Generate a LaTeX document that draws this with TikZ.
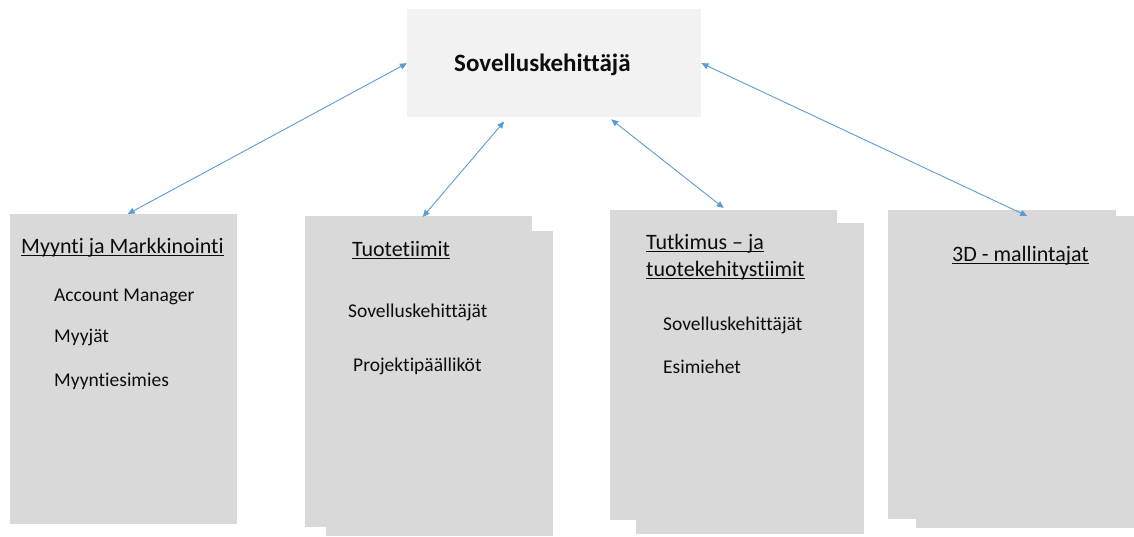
\documentclass[tikz,border=0pt]{standalone}
\usepackage{fontspec}
\setmainfont{Carlito}[Ligatures=NoCommon]
\usetikzlibrary{arrows.meta,calc}
\definecolor{boxgray}{RGB}{217,217,217}
\definecolor{topgray}{RGB}{242,242,242}
\definecolor{arrowblue}{RGB}{91,155,213}
\definecolor{txt}{RGB}{13,13,13}
\newcommand\myul[1]{\setbox0\hbox{#1}\rlap{\rule[-2.5pt]{\wd0}{1pt}}\box0}
\tikzset{
  page/.style={fill=boxgray, draw=none, inner sep=0pt, anchor=north west},
  ttl/.style={anchor=west, inner sep=0pt, font=\fontsize{22}{26}\selectfont, text=txt, align=left},
  item/.style={anchor=west, inner sep=0pt, font=\fontsize{19.5}{23}\selectfont, text=txt},
  link/.style={arrowblue, line width=0.9pt, {Triangle[length=7pt,width=6pt]}-{Triangle[length=7pt,width=6pt]}}
}
\begin{document}
\begin{tikzpicture}[x=1pt,y=-1pt]
\useasboundingbox (0,0) rectangle (1134,537);
% top box
\node[fill=topgray, inner sep=0pt, minimum width=294pt, minimum height=108pt, anchor=north west] (top) at (407,9) {};
\node[font=\bfseries\fontsize{25}{30}\selectfont, text=txt, inner sep=0pt, anchor=west] (toptxt) at (454,65) {Sovelluskehittäjä};
% box 1
\node[page, minimum width=227pt, minimum height=310pt] (b1) at (10,214) {};
% box 2
\node[page, minimum width=227pt, minimum height=305pt] (b2back) at (326,231) {};
\node[page, minimum width=227pt, minimum height=311pt] (b2) at (305,216) {};
% box 3
\node[page, minimum width=228pt, minimum height=311pt] (b3back) at (636,223) {};
\node[page, minimum width=227pt, minimum height=310pt] (b3) at (610,210) {};
% box 4
\node[page, minimum width=218pt, minimum height=312pt] (b4back) at (916,216) {};
\node[page, minimum width=228pt, minimum height=309pt] (b4) at (888,210) {};
% texts box 1
\node[ttl] (t1) at (21,248) {\myul{Myynti ja Markkinointi}};
\node[item] (i11) at (54,297) {Account Manager};
\node[item] (i12) at (54,337) {Myyjät};
\node[item] (i13) at (54,381) {Myyntiesimies};
% texts box 2
\node[ttl] (t2) at (352,250) {\myul{Tuotetiimit}};
\node[item] (i21) at (348,312) {Sovelluskehittäjät};
\node[item] (i22) at (353,366) {Projektipäälliköt};
% texts box 3
\node[ttl] (t3a) at (646,244) {\myul{Tutkimus – ja}};
\node[ttl] (t3b) at (646,271) {\myul{tuotekehitystiimit}};
\node[item] (i31) at (663,325) {Sovelluskehittäjät};
\node[item] (i32) at (663,367) {Esimiehet};
% texts box 4
\node[ttl] (t4) at (952,256) {\myul{3D - mallintajat}};
% connectors
\draw[link] ([xshift=4pt]b1.north) -- (top.west);
\draw[link] ([xshift=4pt,yshift=-1pt]b2.north) -- ([xshift=-50pt,yshift=-4pt]top.south);
\draw[link] ([yshift=2pt]b3.north) -- ([xshift=57pt,yshift=-2pt]top.south);
\draw[link] ([xshift=25pt,yshift=-6pt]b4.north) -- (top.east);
\end{tikzpicture}
\end{document}
